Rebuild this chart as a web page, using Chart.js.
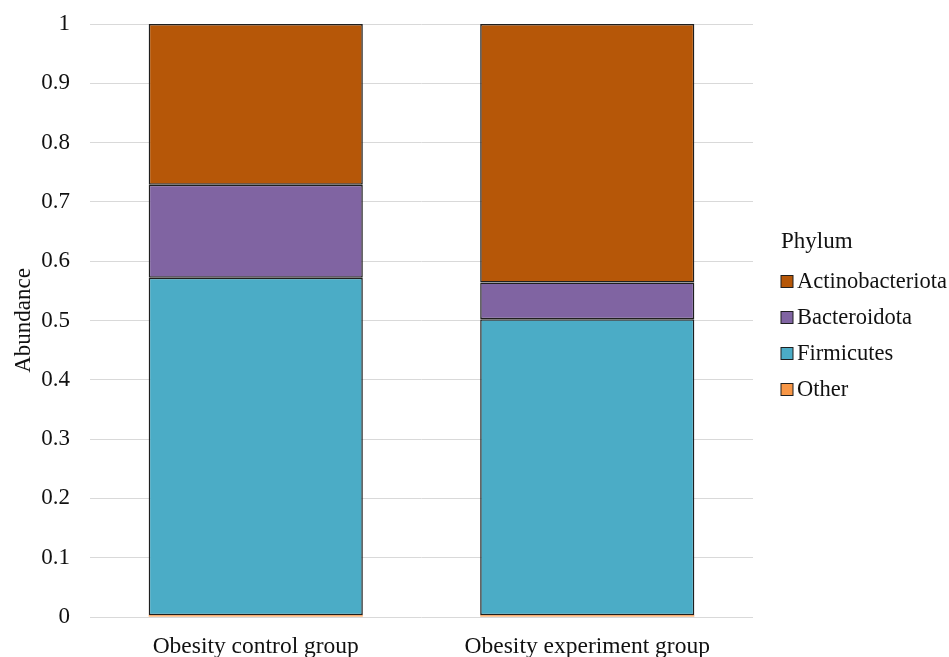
<!DOCTYPE html>
<html>
<head>
<meta charset="utf-8">
<title>Phylum abundance</title>
<script src="https://cdn.jsdelivr.net/npm/chart.js@4/dist/chart.umd.min.js"></script>
<style>
  html, body { margin: 0; padding: 0; background: #ffffff; }
  #wrap { width: 949px; height: 657px; }
</style>
</head>
<body>
<div id="wrap"><canvas id="c" width="949" height="657"></canvas></div>
<script>
// Groups on the x axis
const groups = ['Obesity control group', 'Obesity experiment group'];

// Relative abundance per phylum (stacked bottom to top: Other, Firmicutes, Bacteroidota, Actinobacteriota)
const other            = [0.003, 0.003];
const firmicutes       = [0.569, 0.499];
const bacteroidota     = [0.157, 0.062];
const actinobacteriota = [0.271, 0.436];

// Y axis tick labels, 0 to 1 in steps of 0.1
const yTickLabels = ['0', '0.1', '0.2', '0.3', '0.4', '0.5', '0.6', '0.7', '0.8', '0.9', '1'];

// Legend order, top to bottom
const legendOrder = ['Actinobacteriota', 'Bacteroidota', 'Firmicutes', 'Other'];

const FONT = '"Liberation Serif", "Times New Roman", serif';
const EDGE = '#1f1f1f';

const datasets = [
  { label: 'Other', data: other, backgroundColor: '#F79646', borderWidth: 0 },
  { label: 'Firmicutes', data: firmicutes, backgroundColor: '#4BACC6', borderColor: EDGE, borderWidth: 1.5 },
  { label: 'Bacteroidota', data: bacteroidota, backgroundColor: '#8064A2', borderColor: EDGE, borderWidth: 1.5 },
  { label: 'Actinobacteriota', data: actinobacteriota, backgroundColor: '#B65708', borderColor: EDGE, borderWidth: 1.5 }
];

// Legend block drawn at the right of the plot
const phylumLegend = {
  id: 'phylumLegend',
  afterDraw(chart) {
    const ctx = chart.ctx;
    ctx.save();
    ctx.fillStyle = '#111111';
    ctx.textAlign = 'left';
    ctx.textBaseline = 'alphabetic';
    ctx.font = '23px ' + FONT;
    ctx.fillText('Phylum', 781, 248);
    ctx.font = '22.5px ' + FONT;
    legendOrder.forEach((name, i) => {
      const ds = chart.data.datasets.find(d => d.label === name);
      const y = 275.5 + i * 36;
      ctx.fillStyle = ds.backgroundColor;
      ctx.fillRect(781, y, 12, 12);
      ctx.strokeStyle = EDGE;
      ctx.lineWidth = 1;
      ctx.strokeRect(781, y, 12, 12);
      ctx.fillStyle = '#111111';
      ctx.fillText(name, 797, y + 12.5);
    });
    ctx.restore();
  }
};

new Chart(document.getElementById('c'), {
  type: 'bar',
  data: { labels: groups, datasets: datasets },
  options: {
    responsive: false,
    animation: false,
    layout: { padding: { top: 24, right: 196, left: 0, bottom: 0 } },
    datasets: {
      bar: { barPercentage: 0.646, categoryPercentage: 1.0, borderSkipped: false }
    },
    plugins: {
      legend: { display: false },
      tooltip: { enabled: false }
    },
    scales: {
      x: {
        stacked: true,
        grid: { display: false, drawTicks: false },
        border: { display: false },
        ticks: {
          color: '#111111',
          font: { family: FONT, size: 23.5 },
          padding: 16,
          maxRotation: 0
        },
        afterFit(scale) { scale.height = 40; }
      },
      y: {
        stacked: true,
        min: 0,
        max: 1,
        // invisible tick marks keep the labels 20px clear of the plot
        grid: { color: '#d9d9d9', lineWidth: 1, drawTicks: true, tickLength: 20, tickColor: 'rgba(0,0,0,0)' },
        border: { display: false },
        ticks: {
          stepSize: 0.1,
          color: '#111111',
          font: { family: FONT, size: 23 },
          padding: 0,
          callback: (v) => yTickLabels[Math.round(v * 10)]
        },
        title: {
          display: true,
          text: 'Abundance',
          color: '#111111',
          font: { family: FONT, size: 23 },
          padding: { top: 10, bottom: 0 }
        },
        afterFit(scale) { scale.width = 90; }
      }
    }
  },
  plugins: [phylumLegend]
});
</script>
</body>
</html>
